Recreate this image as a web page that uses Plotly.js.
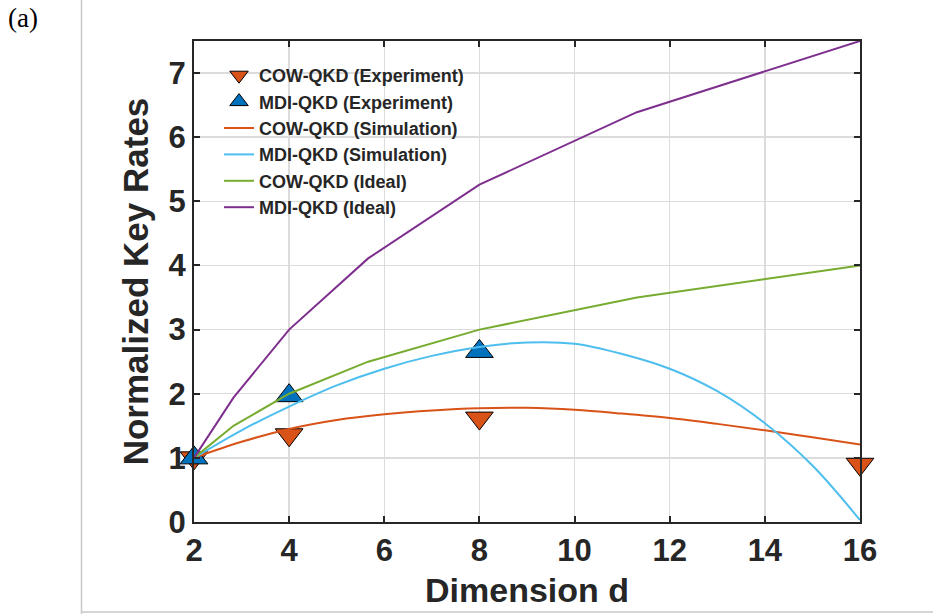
<!DOCTYPE html>
<html>
<head>
<meta charset="utf-8">
<script src="https://cdn.plot.ly/plotly-3.0.1.min.js"></script>
<style>
  html, body { margin: 0; padding: 0; background: #ffffff; }
  #chart { width: 933px; height: 614px; }
</style>
</head>
<body>
<div id="chart"></div>
<script>
// ---- Data ----
var cowExpD = [2, 4, 8, 16];
var cowExpRate = [1.0, 1.36, 1.62, 0.90];

var mdiExpD = [2, 4, 8];
var mdiExpRate = [1.0, 1.97, 2.66];

var cowSimD = [2, 3, 4, 5, 6, 7, 8, 9, 10, 11, 12, 13, 14, 15, 16];
var cowSimRate = [1.0, 1.25, 1.45, 1.59, 1.68, 1.74, 1.775, 1.78, 1.75, 1.69, 1.62, 1.53, 1.43, 1.32, 1.21];

var mdiSimD = [2, 3, 4, 5, 6, 7, 8, 9, 10, 11, 12, 13, 14, 15, 16];
var mdiSimRate = [1.0, 1.43, 1.80, 2.13, 2.39, 2.59, 2.73, 2.80, 2.78, 2.62, 2.39, 2.04, 1.54, 0.88, 0.03];

var idealD = [2, 2.83, 4, 5.66, 8, 11.31, 16];
var cowIdealRate = [1, 1.5, 2, 2.5, 3, 3.5, 4];
var mdiIdealRate = [1, 1.94, 3.0, 4.11, 5.26, 6.39, 7.5];

var xTicks = [2, 4, 6, 8, 10, 12, 14, 16];
var yTicks = [0, 1, 2, 3, 4, 5, 6, 7];

var names = [
  'COW-QKD (Experiment)',
  'MDI-QKD (Experiment)',
  'COW-QKD (Simulation)',
  'MDI-QKD (Simulation)',
  'COW-QKD (Ideal)',
  'MDI-QKD (Ideal)'
];

// ---- Styling ----
var C_ORANGE = '#D95319';
var C_BLUE = '#0072BD';
var C_LIGHTBLUE = '#4DBEEE';
var C_GREEN = '#77AC30';
var C_PURPLE = '#7E2F8E';
var TXT = '#262626';
var FONT = 'Liberation Sans, Arial, sans-serif';

var W = 933, H = 614;
var M = {l: 194, r: 73, t: 41, b: 92};
var plotW = W - M.l - M.r, plotH = H - M.t - M.b;
function px(x) { return (x - M.l) / plotW; }
function py(y) { return (H - M.b - y) / plotH; }

var traces = [
  {x: cowExpD, y: cowExpRate, name: names[0], mode: 'markers', type: 'scatter', cliponaxis: false,
   marker: {symbol: 'triangle-down', size: 24, color: C_ORANGE, line: {color: '#000000', width: 1}}},
  {x: mdiExpD, y: mdiExpRate, name: names[1], mode: 'markers', type: 'scatter', cliponaxis: false,
   marker: {symbol: 'triangle-up', size: 24, color: C_BLUE, line: {color: '#000000', width: 1}}},
  {x: cowSimD, y: cowSimRate, name: names[2], mode: 'lines', type: 'scatter', line: {color: C_ORANGE, width: 2, shape: 'spline', smoothing: 1}},
  {x: mdiSimD, y: mdiSimRate, name: names[3], mode: 'lines', type: 'scatter', line: {color: C_LIGHTBLUE, width: 2, shape: 'spline', smoothing: 1}},
  {x: idealD, y: cowIdealRate, name: names[4], mode: 'lines', type: 'scatter', line: {color: C_GREEN, width: 2}},
  {x: idealD, y: mdiIdealRate, name: names[5], mode: 'lines', type: 'scatter', line: {color: C_PURPLE, width: 2}}
];

var axisCommon = {
  showline: true, linecolor: TXT, linewidth: 2, mirror: 'ticks',
  ticks: 'inside', ticklen: 6, tickwidth: 2, tickcolor: TXT,
  showgrid: true, gridcolor: '#DCDCDC', gridwidth: 1.5,
  zeroline: false,
  tickfont: {family: FONT, size: 31, color: TXT, weight: 'bold'}
};

var layout = {
  width: W, height: H,
  margin: M,
  paper_bgcolor: '#ffffff', plot_bgcolor: '#ffffff',
  showlegend: true,
  legend: {
    x: px(219), y: py(57), xanchor: 'left', yanchor: 'top',
    bgcolor: 'rgba(0,0,0,0)', borderwidth: 0,
    font: {family: FONT, size: 18, color: TXT, weight: 'bold'},
    tracegroupgap: 0
  },
  xaxis: Object.assign({}, axisCommon, {
    range: [2, 16], tickmode: 'array', tickvals: xTicks, ticktext: xTicks.map(String),
    title: {text: 'Dimension d', font: {family: FONT, size: 34, color: TXT, weight: 'bold'}, standoff: 11}
  }),
  yaxis: Object.assign({}, axisCommon, {
    range: [0, 7.5], tickmode: 'array', tickvals: yTicks, ticktext: yTicks.map(String),
    title: {text: 'Normalized Key Rates', font: {family: FONT, size: 35, color: TXT, weight: 'bold'}, standoff: 9}
  }),
  annotations: [
    {xref: 'paper', yref: 'paper', x: px(23), y: py(18), xanchor: 'center', yanchor: 'middle',
     text: '(a)', showarrow: false, font: {family: 'Liberation Serif, Times New Roman, serif', size: 27, color: '#000000'}}
  ],
  shapes: [
    {type: 'line', xref: 'paper', yref: 'paper', x0: px(81.5), x1: px(81.5), y0: py(0), y1: py(614),
     line: {color: '#C8C8C8', width: 1.5}},
    {type: 'line', xref: 'paper', yref: 'paper', x0: px(81.5), x1: px(933), y0: py(612), y1: py(612),
     line: {color: '#C8C8C8', width: 1.5}}
  ]
};

Plotly.newPlot('chart', traces, layout, {displayModeBar: false, staticPlot: true});
</script>
</body>
</html>
